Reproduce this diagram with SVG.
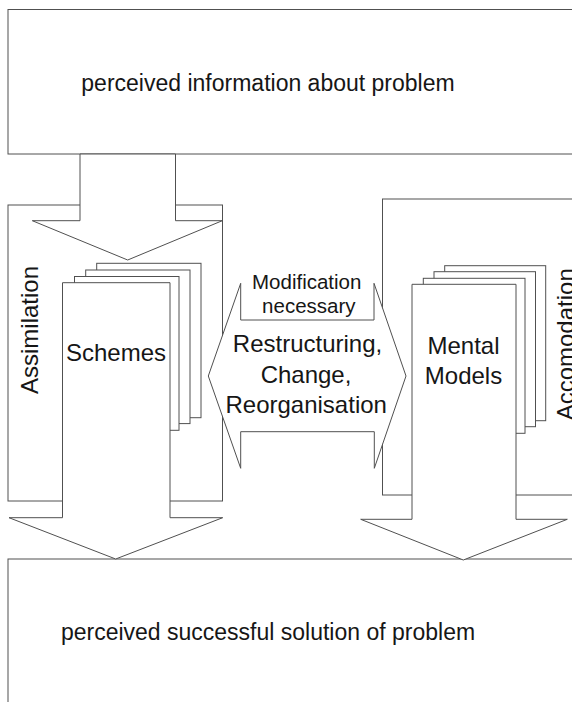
<svg xmlns="http://www.w3.org/2000/svg" width="572" height="702" viewBox="0 0 572 702">
<style>
.ln{fill:#fff;stroke:#505050;stroke-width:1;stroke-linejoin:miter}
.t{font-family:"Liberation Sans",Arial,Helvetica,sans-serif;fill:#161616;text-anchor:middle}
.big{font-size:23px}
.mid{font-size:24px}
.sm{font-size:20.5px}
</style>
<rect width="572" height="702" fill="#fff"/>
<g id="top-box">
<rect class="ln" x="8" y="9.5" width="600" height="144.5"/>
<text class="t big" x="268" y="90.5">perceived information about problem</text>
</g>
<g id="bottom-box">
<rect class="ln" x="8" y="559" width="600" height="200"/>
<text class="t big" x="268" y="640">perceived successful solution of problem</text>
</g>
<g id="assimilation">
<rect class="ln" x="8" y="205" width="214.5" height="296"/>
<text class="t mid" transform="translate(37.5,330) rotate(-90)">Assimilation</text>
</g>
<g id="accomodation">
<rect class="ln" x="382.5" y="199" width="220" height="296"/>
<text class="t mid" transform="translate(574,344.3) rotate(-90)">Accomodation</text>
</g>
<g id="connectors">
<polygon class="ln" points="80,154 175.5,154 175.5,220.7 222.3,220.7 127.7,260 32.3,220.7 80,220.7"/>
</g>
<g id="schemes">
<rect class="ln" x="96.7" y="263.3" width="104.3" height="154.4"/>
<rect class="ln" x="85.7" y="270" width="104.3" height="153.6"/>
<rect class="ln" x="74.5" y="276.5" width="104.5" height="153.8"/>
<polygon class="ln" points="62.5,282.7 170,282.7 170,517.7 222.7,517.7 115.7,559 9,517.7 62.5,517.7"/>
<text class="t mid" x="116" y="361">Schemes</text>
</g>
<g id="mental-models">
<rect class="ln" x="444.7" y="265.7" width="101" height="155"/>
<rect class="ln" x="434" y="271.7" width="101.5" height="155"/>
<rect class="ln" x="423.3" y="278.3" width="101.7" height="155"/>
<polygon class="ln" points="412,284.3 516,284.3 516,519.3 567.3,519.3 463.3,560 360.7,519.3 412,519.3"/>
<text class="t mid" x="463.5" y="354.3">Mental</text>
<text class="t mid" x="463.5" y="383.5">Models</text>
</g>
<g id="restructuring">
<polygon class="ln" points="208.3,376 240.7,283.3 240.7,320 374,320 374,283.3 406,376 374.3,468.3 374.3,431.7 240.7,431.7 240.7,468.3"/>
<text class="t sm" x="306.7" y="289">Modification</text>
<text class="t sm" x="308.8" y="313">necessary</text>
<text class="t mid" x="307.5" y="352">Restructuring,</text>
<text class="t mid" x="306" y="382.7">Change,</text>
<text class="t mid" x="306.2" y="413">Reorganisation</text>
</g>
</svg>
